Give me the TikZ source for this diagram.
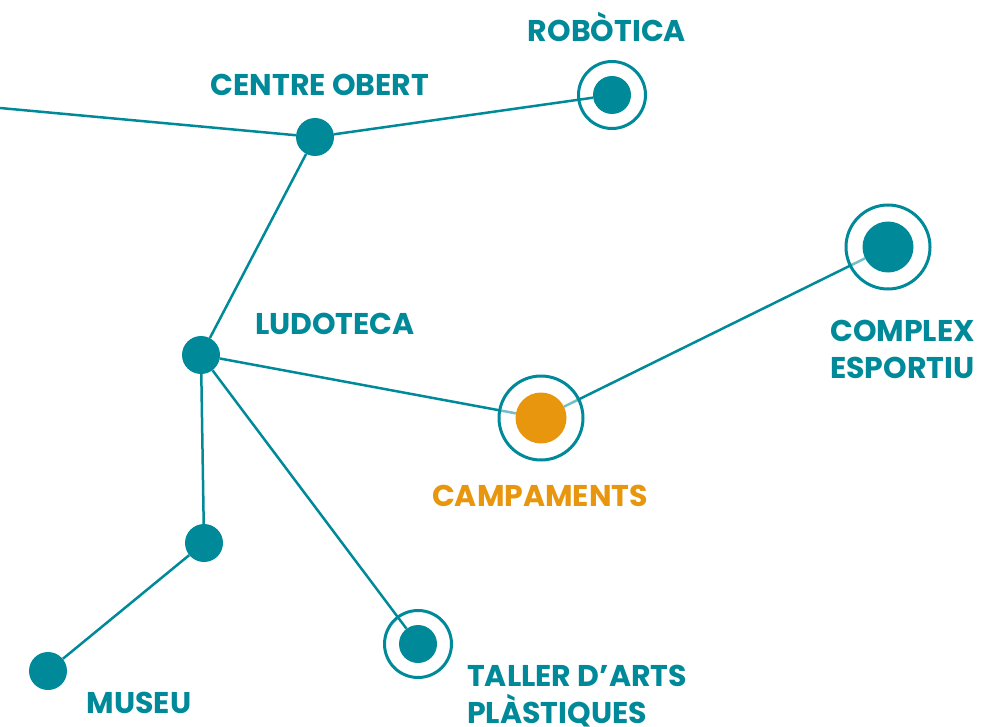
\documentclass[tikz,border=0pt]{standalone}
\usepackage{fontspec}
\setmainfont{Poppins}
\definecolor{blau}{RGB}{0,138,153}
\definecolor{taronja}{RGB}{232,150,14}
\pgfdeclarelayer{bg}
\pgfdeclarelayer{mid}
\pgfsetlayers{bg,mid,main}

\begin{document}
\begin{tikzpicture}[x=1pt, y=-1pt,
    dot/.style={circle, fill=#1, inner sep=0, minimum size=38pt},
    bigdot/.style={circle, fill=#1, inner sep=0, minimum size=51pt},
    ring/.style={circle, draw=blau, line width=3pt, inner sep=0, minimum size=67pt},
    bigring/.style={circle, draw=blau, line width=3pt, inner sep=0, minimum size=84pt, fill=white, fill opacity=.45},
    edge/.style={draw=blau, line width=2.5pt},
    lbl/.style={text=#1, font=\bfseries\fontsize{30}{37}\selectfont, inner sep=0}]
    \useasboundingbox (0,0) rectangle (984,727);
    % parades
    \coordinate (west) at (0,108);
    \node[dot=blau] (co) at (315,137) {};
    \node[dot=blau] (rob) at (612,95) {};
    \node[dot=blau] (lud) at (201,355) {};
    \node[dot=blau] (mid) at (204,543) {};
    \node[dot=blau] (mus) at (48,671) {};
    \node[dot=blau] (tal) at (418,644) {};
    \node[bigdot=taronja] (camp) at (541,418) {};
    \node[bigdot=blau] (ce) at (888,247) {};
    % anells
    \begin{pgfonlayer}{mid}
        \node[ring] at (rob) {};
        \node[ring] at (tal) {};
        \node[bigring] at (camp) {};
        \node[bigring] at (ce) {};
    \end{pgfonlayer}
    % linies
    \begin{pgfonlayer}{bg}
        \draw[edge] (west) -- (co);
        \draw[edge] (co) -- (rob);
        \draw[edge] (co) -- (lud);
        \draw[edge] (lud) -- (camp);
        \draw[edge] (camp) -- (ce);
        \draw[edge] (lud) -- (mid);
        \draw[edge] (mid) -- (mus);
        \draw[edge] (lud) -- (tal);
    \end{pgfonlayer}
    % noms
    \node[lbl=blau, anchor=base] (trob) at (607,42) {ROBÒTICA};
    \node[lbl=blau, anchor=base] (tco) at (320,96) {CENTRE OBERT};
    \node[lbl=blau, anchor=base] (tlud) at (335,334) {LUDOTECA};
    \node[lbl=blau, anchor=north west, align=left] (tce) at (830,320) {COMPLEX\\ESPORTIU};
    \node[lbl=taronja, anchor=base] (tcamp) at (540,506) {CAMPAMENTS};
    \node[lbl=blau, anchor=base] (tmus) at (139,713) {MUSEU};
    \node[lbl=blau, anchor=north west, align=left] (ttal) at (467,665) {TALLER D’ARTS\\PLÀSTIQUES};
\end{tikzpicture}
\end{document}
